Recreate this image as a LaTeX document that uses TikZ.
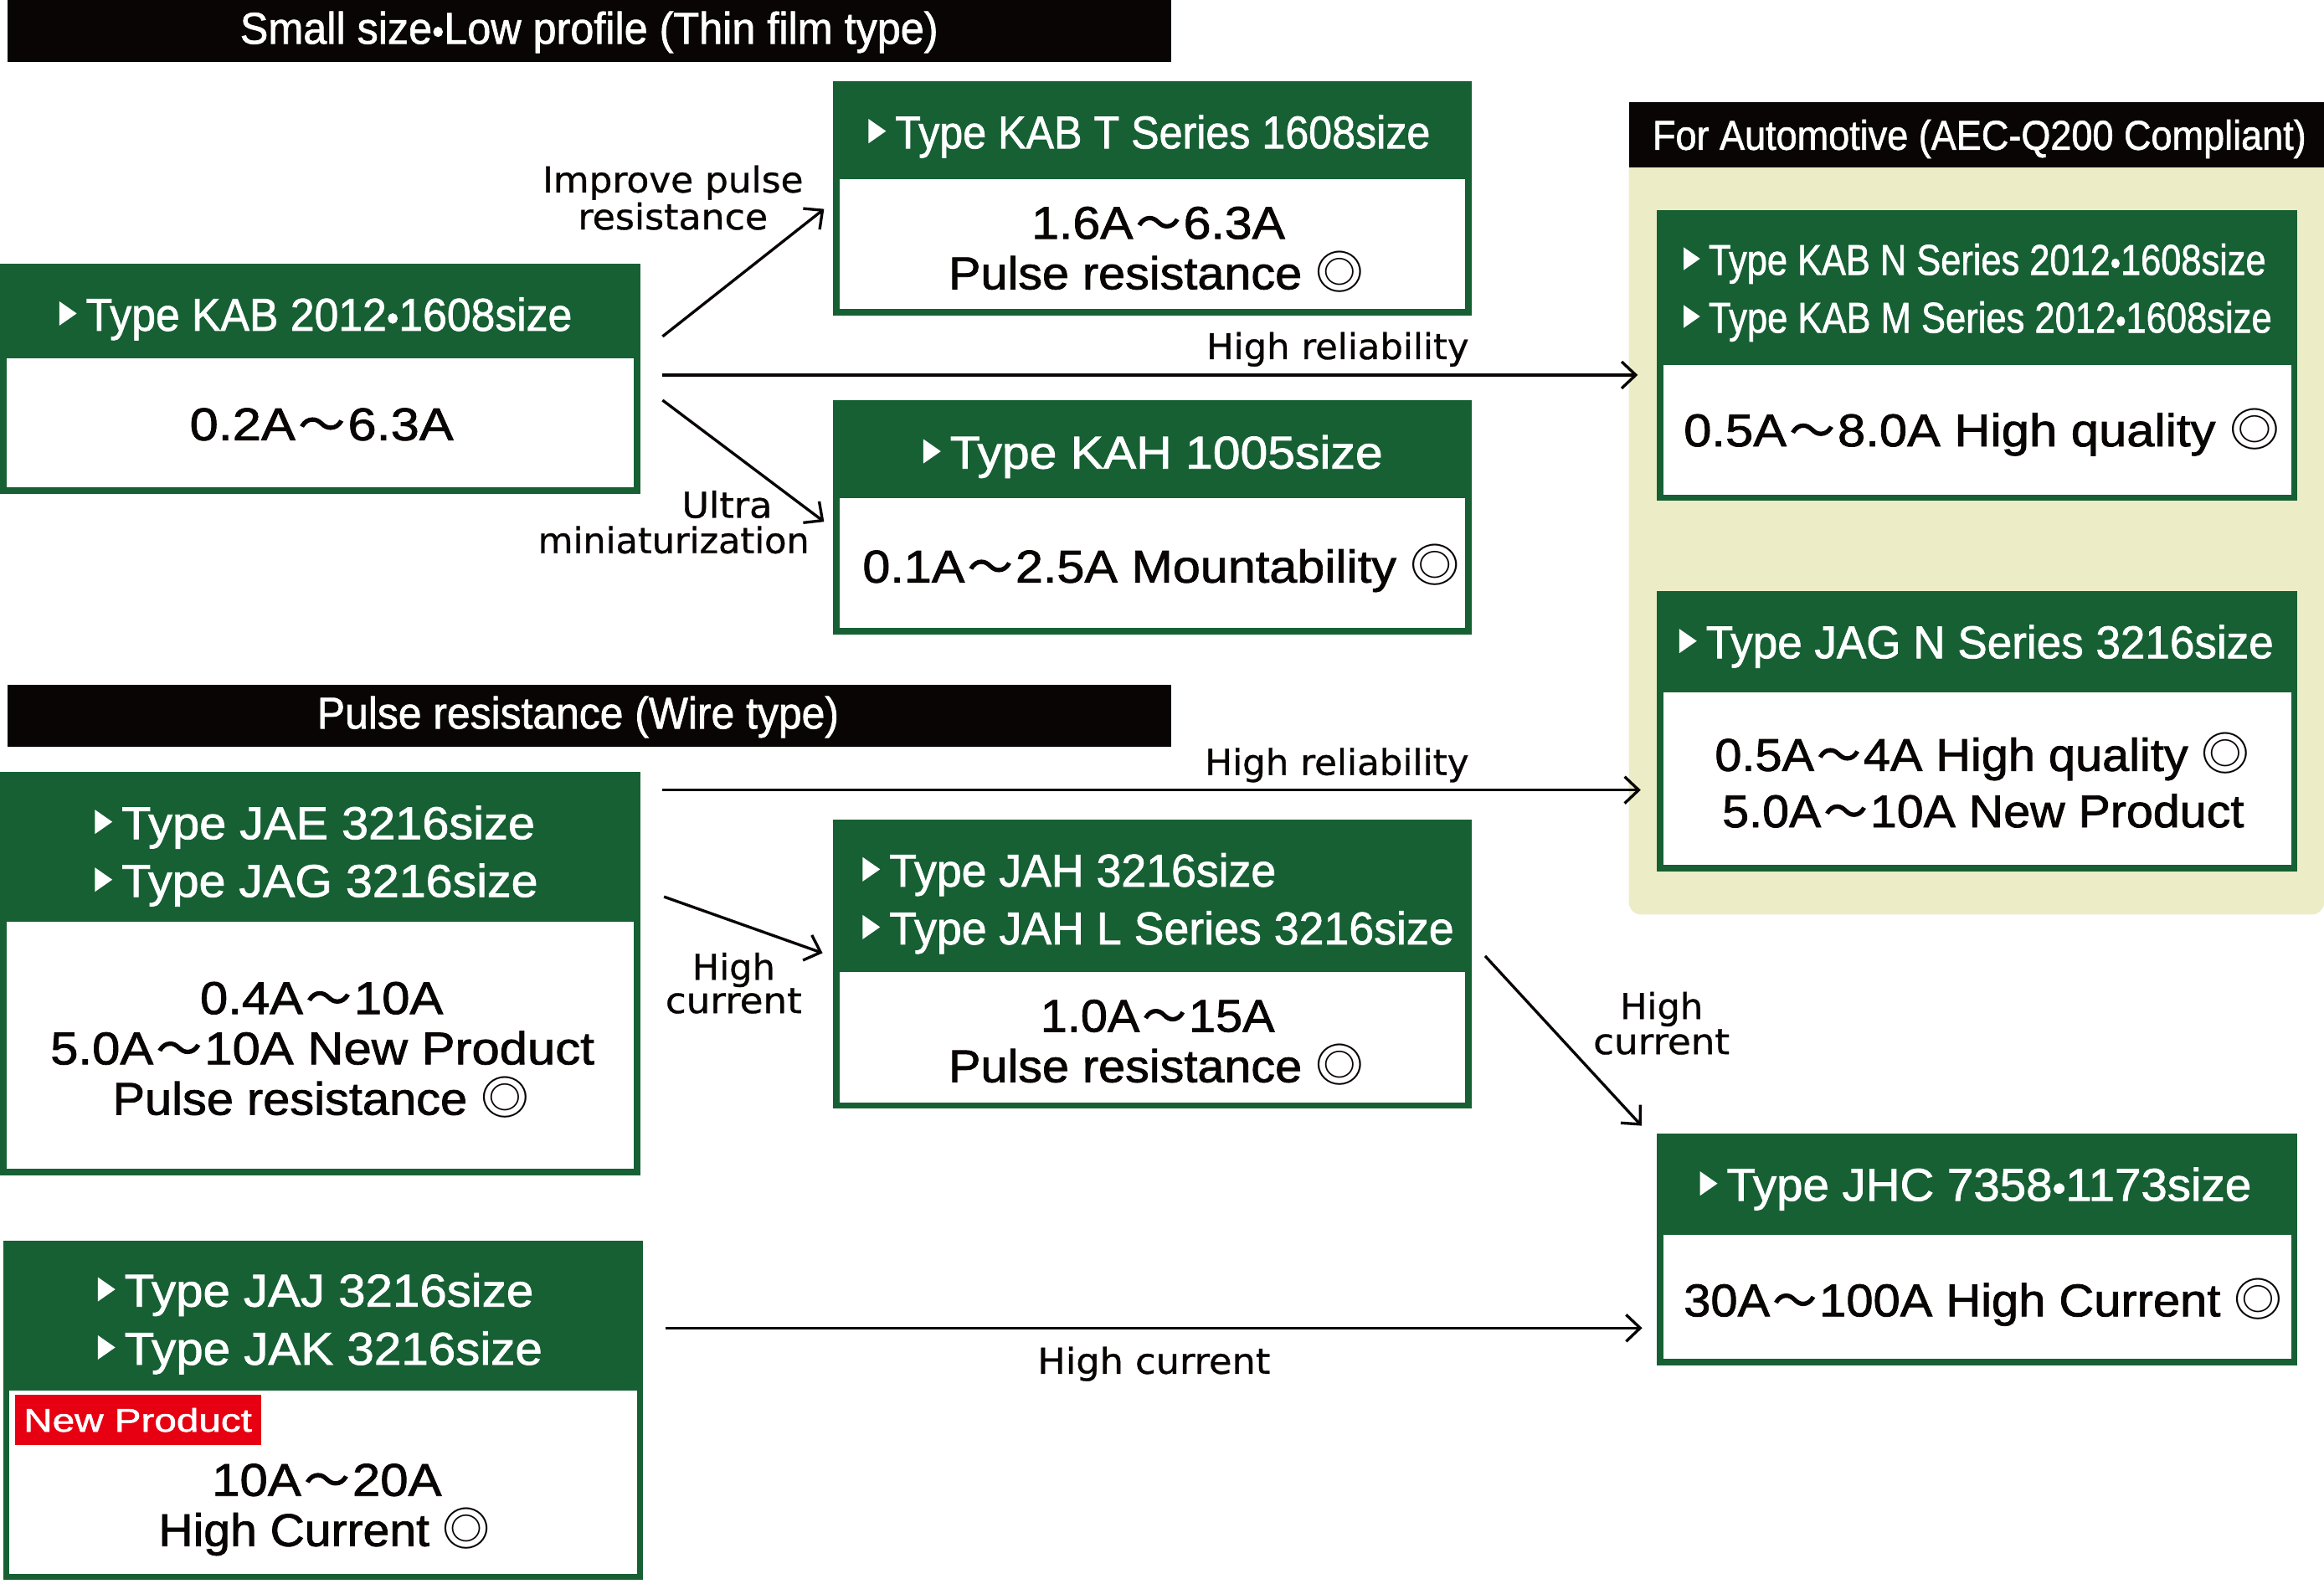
\documentclass[tikz,border=0pt]{standalone}
\usepackage{fontspec}
\setmainfont{Liberation Sans}[FakeBold=1.4]
\newfontfamily\cjk{Noto Sans CJK JP}
\newfontfamily\cjkb{Noto Sans CJK JP}[FakeBold=2]
\newfontfamily\lbfont{DejaVu Sans}[FakeBold=0.8]
\usepackage{graphicx}
\usetikzlibrary{arrows.meta}
\definecolor{kgreen}{RGB}{22,96,52}
\definecolor{pale}{RGB}{236,237,199}
\definecolor{ink}{RGB}{10,5,5}
\definecolor{tagred}{RGB}{230,0,18}
\newlength\fitwl
\newcommand\fitw[2]{\settowidth\fitwl{#2}\pgfmathsetmacro\fitwf{#1/\fitwl}\scalebox{\fitwf}[1]{#2}}
\newcommand\wv{{\hspace{0.06em}\scalebox{0.9}[0.95]{\cjkb ～}\hspace{0.06em}}}
\newcommand\dcirc{{\cjk ◎}}
\newcommand\mdot{\scalebox{0.8}{•}}
\newcommand\ktri{\tikz[x=1em,y=1em,baseline=0pt]\fill[white] (0,0.11) -- (0,0.64) -- (0.38,0.375) -- cycle;\hspace{0.2em}}
\newcommand\kbox[6]{%
  \node[gbox, minimum width={(#4)-(#2)}, minimum height={(#5)-(#3)}] (#1) at ({((#2)+(#4))/2},{((#3)+(#5))/2}) {};
  \fill[white] ({(#2)+4.3},#6) rectangle ({(#4)-4.3},{(#5)-4.3});
}
\begin{document}
\begin{tikzpicture}[x=1pt,y=-1pt,
  gbox/.style={fill=kgreen, draw=none, inner sep=0pt, outer sep=0pt},
  bar/.style={fill=ink, draw=none, inner sep=0pt, outer sep=0pt},
  panel/.style={fill=pale, draw=none, inner sep=0pt, outer sep=0pt, rounded corners=8pt},
  ht/.style={anchor=base west, inner sep=0pt, outer sep=0pt, text=white, font=\fontsize{31}{37}\selectfont},
  hs/.style={ht, font=\fontsize{29}{35}\selectfont},
  bt/.style={anchor=base west, inner sep=0pt, outer sep=0pt, text=ink, font=\fontsize{31}{37}\selectfont},
  tt/.style={anchor=base west, inner sep=0pt, outer sep=0pt, text=white, font=\fontsize{30}{36}\selectfont},
  lb/.style={anchor=base west, inner sep=0pt, outer sep=0pt, text=ink, font=\lbfont\fontsize{24}{29}\selectfont},
  tag/.style={fill=tagred, text=white, inner sep=0pt, outer sep=0pt, font=\fontsize{22}{26}\selectfont},
  arr/.style={draw=ink, line width=1.9pt, -{Straight Barb[length=9.5pt,width=18pt]}}
]
\useasboundingbox (0,0) rectangle (1568,1072);

% section bars and automotive panel
\node[bar, minimum width=785, minimum height=42] (bar1) at (397.5,21) {};
\node[bar, minimum width=785, minimum height=42] (bar2) at (397.5,483) {};
\node[panel, minimum width=469, minimum height=548] (panel) at (1333.5,343) {};
\node[bar, minimum width=469, minimum height=44] (autobar) at (1333.5,91) {};

\node[tt] (t1) at (162,29.5) {\fitw{471}{Small size\mdot Low profile (Thin film type)}};
\node[tt] (t2) at (214,491.5) {\fitw{352}{Pulse resistance (Wire type)}};
\node[tt, font=\fontsize{28}{34}\selectfont] (t3) at (1115,101) {\fitw{441}{For Automotive (AEC-Q200 Compliant)}};

% boxes: name, left, top, right, bottom, header bottom
\kbox{kab}{0}{178}{432}{333}{242}
\kbox{kabt}{562}{55}{993}{213}{121}
\kbox{kah}{562}{270}{993}{428}{336}
\kbox{kabnm}{1118}{142}{1550}{338}{246}
\kbox{jagn}{1118}{399}{1550}{588}{467}
\kbox{jae}{0}{521}{432}{793}{622}
\kbox{jah}{562}{553}{993}{748}{656}
\kbox{jhc}{1118}{765}{1550}{921}{833}
\kbox{jaj}{2}{837}{434}{1066}{938}

% header texts
\node[ht] (h1) at (40,223.1) {\ktri\fitw{328}{Type KAB 2012\mdot 1608size}};
\node[ht] (h2) at (586,100.1) {\ktri\fitw{361}{Type KAB T Series 1608size}};
\node[ht] (h3) at (623,316.1) {\ktri\fitw{292}{Type KAH 1005size}};
\node[hs] (h4) at (1136,185.4) {\ktri\fitw{376}{Type KAB N Series 2012\mdot 1608size}};
\node[hs] (h5) at (1136,224.4) {\ktri\fitw{380}{Type KAB M Series 2012\mdot 1608size}};
\node[ht] (h6) at (1133,444.1) {\ktri\fitw{383}{Type JAG N Series 3216size}};
\node[ht] (h7) at (64,566.1) {\ktri\fitw{279}{Type JAE 3216size}};
\node[ht] (h8) at (64,605.1) {\ktri\fitw{281}{Type JAG 3216size}};
\node[ht] (h9) at (582,598.1) {\ktri\fitw{261}{Type JAH 3216size}};
\node[ht] (h10) at (582,637.1) {\ktri\fitw{381}{Type JAH L Series 3216size}};
\node[ht] (h11) at (1147,810.1) {\ktri\fitw{354}{Type JHC 7358\mdot 1173size}};
\node[ht] (h12) at (66,881.5) {\ktri\fitw{276}{Type JAJ 3216size}};
\node[ht] (h13) at (66,920.7) {\ktri\fitw{282}{Type JAK 3216size}};

% body texts
\node[bt] (b1) at (128,297) {\fitw{178}{0.2A\wv 6.3A}};
\node[bt] (b2) at (696,161.1) {\fitw{171}{1.6A\wv 6.3A}};
\node[bt] (b3) at (640,195.1) {\fitw{280}{Pulse resistance \dcirc}};
\node[bt] (b4) at (582,393) {\fitw{403}{0.1A\wv 2.5A Mountability \dcirc}};
\node[bt] (b5) at (1136,301.1) {\fitw{402}{0.5A\wv 8.0A High quality \dcirc}};
\node[bt] (b6) at (1157,520.1) {\fitw{361}{0.5A\wv 4A High quality \dcirc}};
\node[bt] (b7) at (1162,558.1) {\fitw{352}{5.0A\wv 10A New Product}};
\node[bt] (b8) at (135,684.1) {\fitw{164}{0.4A\wv 10A}};
\node[bt] (b9) at (34,718.1) {\fitw{367}{5.0A\wv 10A New Product}};
\node[bt] (b10) at (76,752.1) {\fitw{281}{Pulse resistance \dcirc}};
\node[bt] (b11) at (702,696.1) {\fitw{158}{1.0A\wv 15A}};
\node[bt] (b12) at (640,730.1) {\fitw{280}{Pulse resistance \dcirc}};
\node[bt] (b13) at (1136,888.1) {\fitw{404}{30A\wv 100A High Current \dcirc}};
\node[bt] (b14) at (143,1009.2) {\fitw{155}{10A\wv 20A}};
\node[bt] (b15) at (107,1043.1) {\fitw{224}{High Current \dcirc}};

\node[tag, minimum width=166, minimum height=34] (tagnew) at (93,958) {\fitw{154}{New Product}};

% connectors
\draw[arr] ([shift={(15,49)}]kab.north east) -- ([shift={(-6,-72)}]kabt.south west);
\draw[arr] ([shift={(15,75)}]kab.north east) -- ([shift={(-13,-85)}]kabnm.south west);
\draw[arr] ([shift={(15,92)}]kab.north east) -- ([shift={(-6,82)}]kah.north west);
\draw[arr] ([shift={(15,12)}]jae.north east) -- ([shift={(-11,134)}]jagn.north west);
\draw[arr] ([shift={(16,84)}]jae.north east) -- ([shift={(-7,90)}]jah.north west);
\draw[arr] ([shift={(9,92)}]jah.north east) -- ([shift={(-10.5,-5.5)}]jhc.north west);
\draw[arr] ([shift={(15,59)}]jaj.north east) -- ([shift={(-10,-25)}]jhc.south west);

% connector labels
\node[lb] (l1) at (366,129.8) {\fitw{176}{Improve pulse}};
\node[lb] (l2) at (390,154.8) {\fitw{128}{resistance}};
\node[lb] (l3) at (814,242.3) {\fitw{177}{High reliability}};
\node[lb] (l4) at (813,522.8) {\fitw{178}{High reliability}};
\node[lb] (l5) at (460,349.3) {\fitw{61}{Ultra}};
\node[lb] (l6) at (363,373.2) {\fitw{183}{miniaturization}};
\node[lb] (l7) at (467,661) {\fitw{56}{High}};
\node[lb] (l8) at (449,683.5) {\fitw{92}{current}};
\node[lb] (l9) at (1093,687.5) {\fitw{56}{High}};
\node[lb] (l10) at (1075,711.2) {\fitw{92}{current}};
\node[lb] (l11) at (700,926.8) {\fitw{157}{High current}};
\end{tikzpicture}
\end{document}
